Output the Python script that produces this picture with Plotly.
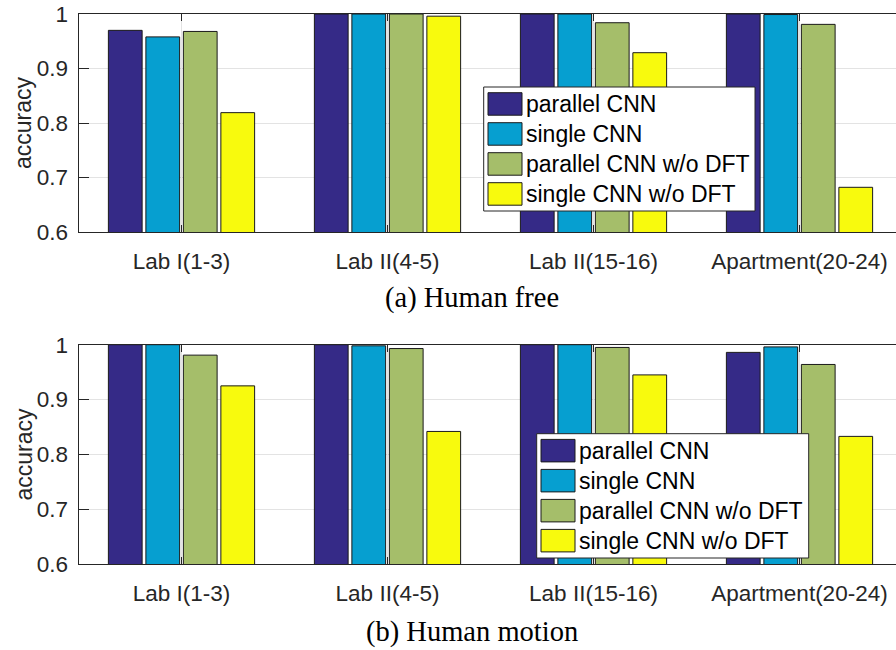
import plotly.graph_objects as go

categories = ["Lab I(1-3)", "Lab II(4-5)", "Lab II(15-16)", "Apartment(20-24)"]
series_names = ["parallel CNN", "single CNN", "parallel CNN w/o DFT", "single CNN w/o DFT"]
series_colors = ["#352a87", "#069fd0", "#a5be6a", "#f8fa0d"]

free_parallel = [0.970, 1.000, 1.000, 1.000]
free_single = [0.958, 1.000, 1.000, 0.999]
free_parallel_nodft = [0.968, 1.000, 0.984, 0.981]
free_single_nodft = [0.819, 0.996, 0.929, 0.682]

motion_parallel = [1.000, 1.000, 1.000, 0.986]
motion_single = [1.000, 0.998, 1.000, 0.996]
motion_parallel_nodft = [0.981, 0.993, 0.995, 0.964]
motion_single_nodft = [0.925, 0.842, 0.945, 0.833]

y_ticks = [0.6, 0.7, 0.8, 0.9, 1.0]
y_ticktext = ["0.6", "0.7", "0.8", "0.9", "1"]
captions = ["(a) Human free", "(b) Human motion"]

W, H = 896, 650
def pxx(x):
    return x / W
def pxy(y):
    return 1 - y / H

AX = "#262626"
GRID = "#e3e3e3"
TICKFONT = dict(family="Liberation Sans, Arial, sans-serif", size=22.5, color=AX)

fig = go.Figure()

panels = [
    ([free_parallel, free_single, free_parallel_nodft, free_single_nodft], "x", "y"),
    ([motion_parallel, motion_single, motion_parallel_nodft, motion_single_nodft], "x2", "y2"),
]
for vals, xa, ya in panels:
    for name, color, v in zip(series_names, series_colors, vals):
        fig.add_trace(go.Bar(
            x=categories, y=v, name=name, xaxis=xa, yaxis=ya,
            marker=dict(color=color, line=dict(color="#1a1a1a", width=1)),
            showlegend=False,
        ))

left_px = 78.5
cat_px = 206.0
x_range = [-0.5, -0.5 + (W - left_px) / cat_px]

def xaxis_cfg():
    return dict(
        domain=[pxx(left_px), 1.0], range=x_range, type="category",
        showline=True, linecolor=AX, linewidth=1, mirror="allticks",
        ticks="inside", ticklen=7, tickcolor=AX,
        showgrid=True, gridcolor=GRID, gridwidth=1,
        tickfont=TICKFONT, ticklabelstandoff=9, zeroline=False, automargin=False,
    )

def yaxis_cfg(top, bottom):
    return dict(
        domain=[pxy(bottom), pxy(top)], range=[0.6, 1.0],
        tickvals=y_ticks, ticktext=y_ticktext,
        showline=True, linecolor=AX, linewidth=1,
        ticks="inside", ticklen=10, tickcolor=AX,
        showgrid=True, gridcolor=GRID, gridwidth=1,
        tickfont=TICKFONT, ticklabelstandoff=5, zeroline=False, automargin=False,
    )

panel_px = [(14, 232), (344.7, 564.3)]

fig.update_layout(
    template="none",
    width=W, height=H, margin=dict(l=0, r=0, t=0, b=0, autoexpand=False),
    paper_bgcolor="white", plot_bgcolor="white",
    barmode="group", bargap=0.272, bargroupgap=0.1,
    showlegend=False,
    xaxis=xaxis_cfg(), xaxis2=dict(xaxis_cfg(), anchor="y2"),
    yaxis=yaxis_cfg(*panel_px[0]), yaxis2=dict(yaxis_cfg(*panel_px[1]), anchor="x2"),
)
fig.layout.xaxis.anchor = "y"

shapes = []
annotations = []

# y-axis titles
for top, bottom in panel_px:
    annotations.append(dict(
        text="accuracy", x=pxx(23), y=pxy((top + bottom) / 2), xref="paper", yref="paper",
        showarrow=False, textangle=-90, xanchor="center", yanchor="middle",
        font=dict(family="Liberation Sans, Arial, sans-serif", size=23, color=AX),
    ))

# captions
for cap, cy in zip(captions, [298, 632]):
    annotations.append(dict(
        text=cap, x=pxx(472), y=pxy(cy), xref="paper", yref="paper",
        showarrow=False, xanchor="center", yanchor="middle",
        font=dict(family="Liberation Serif, Times New Roman, serif", size=28.5, color="black"),
    ))

# legends (custom boxes with large swatches)
legend_boxes = [(483.7, 87, 271.3, 124), (536.7, 433.7, 272, 124.3)]
for (lx, ly, lw, lh) in legend_boxes:
    shapes.append(dict(type="rect", xref="paper", yref="paper",
                       x0=pxx(lx), x1=pxx(lx + lw), y0=pxy(ly + lh), y1=pxy(ly),
                       fillcolor="white", line=dict(color=AX, width=1), layer="above"))
    for i, (name, color) in enumerate(zip(series_names, series_colors)):
        sy = ly + 5.7 + i * 30
        shapes.append(dict(type="rect", xref="paper", yref="paper",
                           x0=pxx(lx + 4.3), x1=pxx(lx + 38.3), y0=pxy(sy + 22.5), y1=pxy(sy),
                           fillcolor=color, line=dict(color="#1a1a1a", width=1), layer="above"))
        annotations.append(dict(
            text=name, x=pxx(lx + 40.5), y=pxy(sy + 11.5), xref="paper", yref="paper",
            showarrow=False, xanchor="left", yanchor="middle",
            font=dict(family="Liberation Sans, Arial, sans-serif", size=23, color="black"),
        ))

fig.update_layout(shapes=shapes, annotations=annotations)
fig.write_html("out.html")
